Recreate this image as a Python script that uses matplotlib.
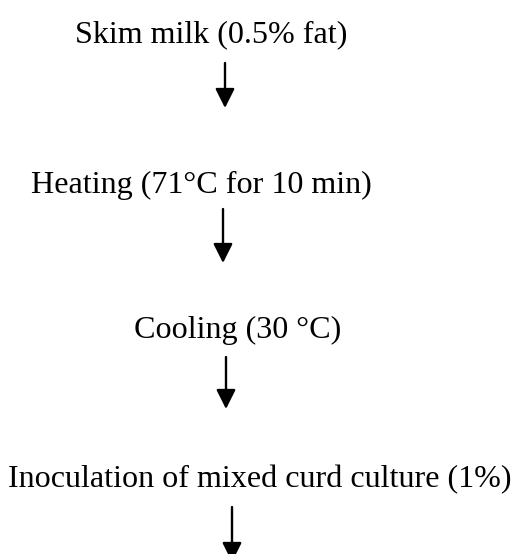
import matplotlib
matplotlib.use("Agg")
import matplotlib.pyplot as plt

steps = [
    "Skim milk (0.5% fat)",
    "Heating (71°C for 10 min)",
    "Cooling (30 °C)",
    "Inoculation of mixed curd culture (1%)",
]
text_x = [211.5, 201, 238, 260]
text_baseline = [42, 193, 338, 487]
arrow_x = [225, 223, 226, 232]
arrow_y0 = [63, 209, 357, 507]
arrow_y1 = [108, 263, 409, 562]

W, H, DPI = 513, 554, 100
fig = plt.figure(figsize=(W / DPI, H / DPI), dpi=DPI)
ax = fig.add_axes([0, 0, 1, 1])
ax.set_xlim(0, W)
ax.set_ylim(H, 0)
ax.axis("off")

for s, x, y in zip(steps, text_x, text_baseline):
    ax.text(x, y, s, ha="center", va="baseline", fontsize=23.1,
            family="Liberation Serif", color="black")

for x, y0, y1 in zip(arrow_x, arrow_y0, arrow_y1):
    ax.annotate("", xy=(x, y1), xytext=(x, y0),
                arrowprops=dict(arrowstyle="-|>,head_length=0.42,head_width=0.21",
                                mutation_scale=28, lw=1.7,
                                color="black", shrinkA=0, shrinkB=0),
                annotation_clip=False)

fig.savefig("out.png", dpi=DPI, facecolor="white")
